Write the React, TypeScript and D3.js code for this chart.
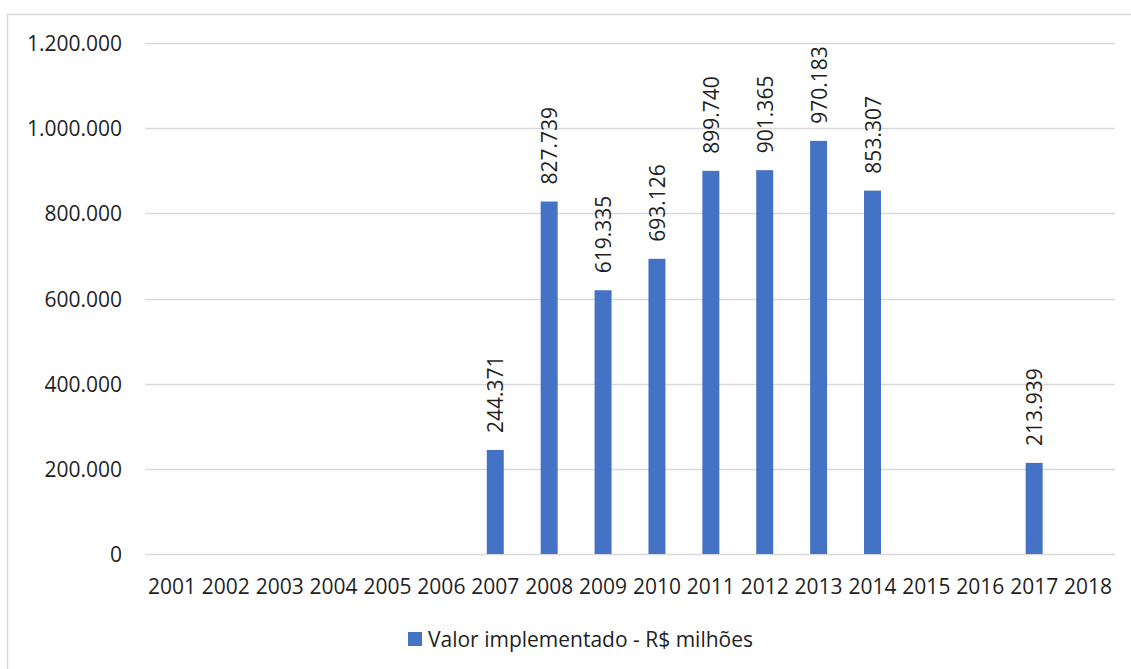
import * as d3 from "d3";
import React from "react";

// values (R$ milhões); null = no bar
const years = [
	"2001", "2002", "2003", "2004", "2005", "2006", "2007", "2008", "2009",
	"2010", "2011", "2012", "2013", "2014", "2015", "2016", "2017", "2018",
];
const values: (number | null)[] = [
	null, null, null, null, null, null, 244371, 827739, 619335,
	693126, 899740, 901365, 970183, 853307, null, null, 213939, null,
];
const yTicks = [0, 200000, 400000, 600000, 800000, 1000000, 1200000];
const seriesName = "Valor implementado - R$ milhões";

const W = 1131,
	H = 669;
const margin = { top: 43, right: 16, bottom: 115, left: 145 };
const font = "'Open Sans', sans-serif";
const fontSize = 21;
const barColor = "#4472C4";
const gridColor = "#D9D9D9";
const textColor = "#1f1f1f";

const br = d3.formatLocale({
	decimal: ",",
	thousands: ".",
	grouping: [3],
	currency: ["R$", ""],
});
const fmt = br.format(",d");

const App = () => {
	const x = d3
		.scaleBand()
		.domain(years)
		.range([margin.left, W - margin.right]);
	const y = d3
		.scaleLinear()
		.domain([0, 1200000])
		.range([H - margin.bottom, margin.top]);
	const barW = x.bandwidth() * 0.315;

	return (
		<svg
			width={W}
			height={H}
			style={{ position: "absolute", top: 0, left: 0, background: "#fff" }}
			fontFamily={font}
		>
			<rect
				x={7.5}
				y={14.5}
				width={W + 10}
				height={H + 10}
				fill="#fff"
				stroke={gridColor}
				strokeWidth={1.5}
			/>
			{yTicks.map((t) => (
				<g key={t}>
					<line
						x1={margin.left}
						x2={W - margin.right}
						y1={Math.round(y(t)) + 0.5}
						y2={Math.round(y(t)) + 0.5}
						stroke={gridColor}
						strokeWidth={1.5}
					/>
					<text
						x={122}
						y={y(t)}
						textAnchor="end"
						dominantBaseline="central"
						fontSize={fontSize}
						fill={textColor}
					>
						{fmt(t)}
					</text>
				</g>
			))}
			{years.map((yr, i) => {
				const v = values[i];
				const cx = x(yr)! + x.bandwidth() / 2;
				return (
					<g key={yr}>
						<text
							x={cx}
							y={586}
							textAnchor="middle"
							dominantBaseline="central"
							fontSize={fontSize}
							fill={textColor}
						>
							{yr}
						</text>
						{v != null && (
							<>
								<rect
									x={cx - barW / 2}
									y={y(v)}
									width={barW}
									height={y(0) - y(v)}
									fill={barColor}
								/>
								<text
									transform={`translate(${cx},${y(v) - 17}) rotate(-90)`}
									dominantBaseline="central"
									fontSize={fontSize}
									fill={textColor}
								>
									{fmt(v)}
								</text>
							</>
						)}
					</g>
				);
			})}
			<g transform="translate(408,632)">
				<rect width={14} height={14} fill={barColor} />
				<text
					x={20}
					y={7}
					dominantBaseline="central"
					fontSize={fontSize}
					fill={textColor}
				>
					{seriesName}
				</text>
			</g>
		</svg>
	);
};

export default App;
